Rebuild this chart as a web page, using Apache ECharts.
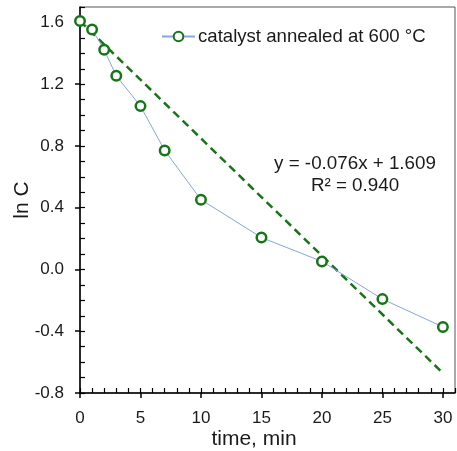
<!DOCTYPE html>
<html>
<head>
<meta charset="utf-8">
<script src="https://cdn.jsdelivr.net/npm/echarts@6/dist/echarts.min.js"></script>
<style>
html,body{margin:0;padding:0;background:#fff;}
#chart{width:457px;height:451px;}
</style>
</head>
<body>
<div id="chart"></div>
<script>
// ---- data ----
const timeMin = [0, 1, 2, 3, 5, 7, 10, 15, 20, 25, 30];
const lnC = [1.609, 1.555, 1.423, 1.254, 1.058, 0.771, 0.452, 0.207, 0.052, -0.192, -0.372];
const seriesName = 'catalyst annealed at 600 °C';
const fitSlope = -0.076;
const fitIntercept = 1.609;
const fitRange = [0, 30];
const fitEquation = 'y = -0.076x + 1.609';
const fitR2 = 'R² = 0.940';
const xTicks = [0, 5, 10, 15, 20, 25, 30];
const yTicks = [-0.8, -0.4, 0.0, 0.4, 0.8, 1.2, 1.6];
const xRange = [0, 31];
const yRange = [-0.8, 1.7];

const FONT = 'Liberation Sans, Arial, sans-serif';
const TXT = '#1a1a1a';
const GREEN = '#167516';

const fitData = fitRange.map(x => [x, fitIntercept + fitSlope * x]);
const pts = timeMin.map((t, i) => [t, lnC[i]]);

const chart = echarts.init(document.getElementById('chart'), null, {renderer: 'canvas'});
chart.setOption({
  animation: false,
  backgroundColor: '#fff',
  textStyle: {fontFamily: FONT},
  grid: {left: 80, top: 7, right: 2, bottom: 58, containLabel: false, outerBoundsMode: 'none',
    show: true, borderColor: '#555', borderWidth: 1, backgroundColor: 'transparent'},
  legend: {
    data: [seriesName],
    left: 156, top: 22,
    itemWidth: 33, itemHeight: 12, itemGap: 5,
    textStyle: {fontFamily: FONT, fontSize: 18.6, color: TXT, padding: [0, 0, 0, -2]}
  },
  xAxis: [{
    type: 'value', min: xRange[0], max: xRange[1], interval: 5,
    name: 'time, min', nameLocation: 'middle', nameGap: 36, nameMoveOverlap: false,
    nameTextStyle: {fontFamily: FONT, fontSize: 21, color: TXT, padding: [0, 27, 0, 0]},
    axisLine: {show: true, onZero: false, lineStyle: {color: '#000', width: 1.5}},
    axisTick: {show: true, inside: false, length: 5, customValues: xTicks, lineStyle: {color: '#000', width: 1.5}},
    axisLabel: {customValues: xTicks, margin: 17, fontFamily: FONT, fontSize: 17, color: TXT},
    splitLine: {show: false}
  }, {
    type: 'value', min: xRange[0], max: xRange[1], interval: 1, position: 'bottom',
    axisLine: {show: false, onZero: false},
    axisTick: {show: true, inside: true, length: 5, lineStyle: {color: '#000', width: 1.2}},
    axisLabel: {show: false},
    splitLine: {show: false}
  }],
  yAxis: [{
    type: 'value', min: yRange[0], max: yRange[1], interval: 0.4,
    name: 'ln C', nameLocation: 'middle', nameGap: 47, nameRotate: 90, nameMoveOverlap: false,
    nameTextStyle: {fontFamily: FONT, fontSize: 21, color: TXT},
    axisLine: {show: true, onZero: false, lineStyle: {color: '#000', width: 1.5}},
    axisTick: {show: true, inside: false, length: 5, customValues: yTicks, lineStyle: {color: '#000', width: 1.5}},
    axisLabel: {customValues: yTicks, margin: 16, fontFamily: FONT, fontSize: 17, color: TXT,
      formatter: v => v.toFixed(1)},
    splitLine: {show: false}
  }, {
    type: 'value', min: yRange[0], max: yRange[1], interval: 0.1, position: 'left',
    axisLine: {show: false, onZero: false},
    axisTick: {show: true, inside: true, length: 5, lineStyle: {color: '#000', width: 1.2}},
    axisLabel: {show: false},
    splitLine: {show: false}
  }],
  series: [{
    name: 'fit', type: 'line', data: fitData, symbol: 'none', silent: true, z: 2,
    lineStyle: {color: GREEN, width: 2.5, type: [8, 5]}
  }, {
    name: seriesName, type: 'line', data: pts, z: 3,
    symbol: 'circle', symbolSize: 9.5,
    itemStyle: {color: '#fff', borderColor: GREEN, borderWidth: 2.5},
    lineStyle: {color: '#86a6e0', width: 1}
  }],
  graphic: [{
    type: 'text', x: 355, y: 164,
    style: {text: fitEquation, font: '18.8px ' + FONT, fill: TXT, align: 'center', verticalAlign: 'middle'}
  }, {
    type: 'text', x: 355, y: 186,
    style: {text: fitR2, font: '18.8px ' + FONT, fill: TXT, align: 'center', verticalAlign: 'middle'}
  }]
});
</script>
</body>
</html>
